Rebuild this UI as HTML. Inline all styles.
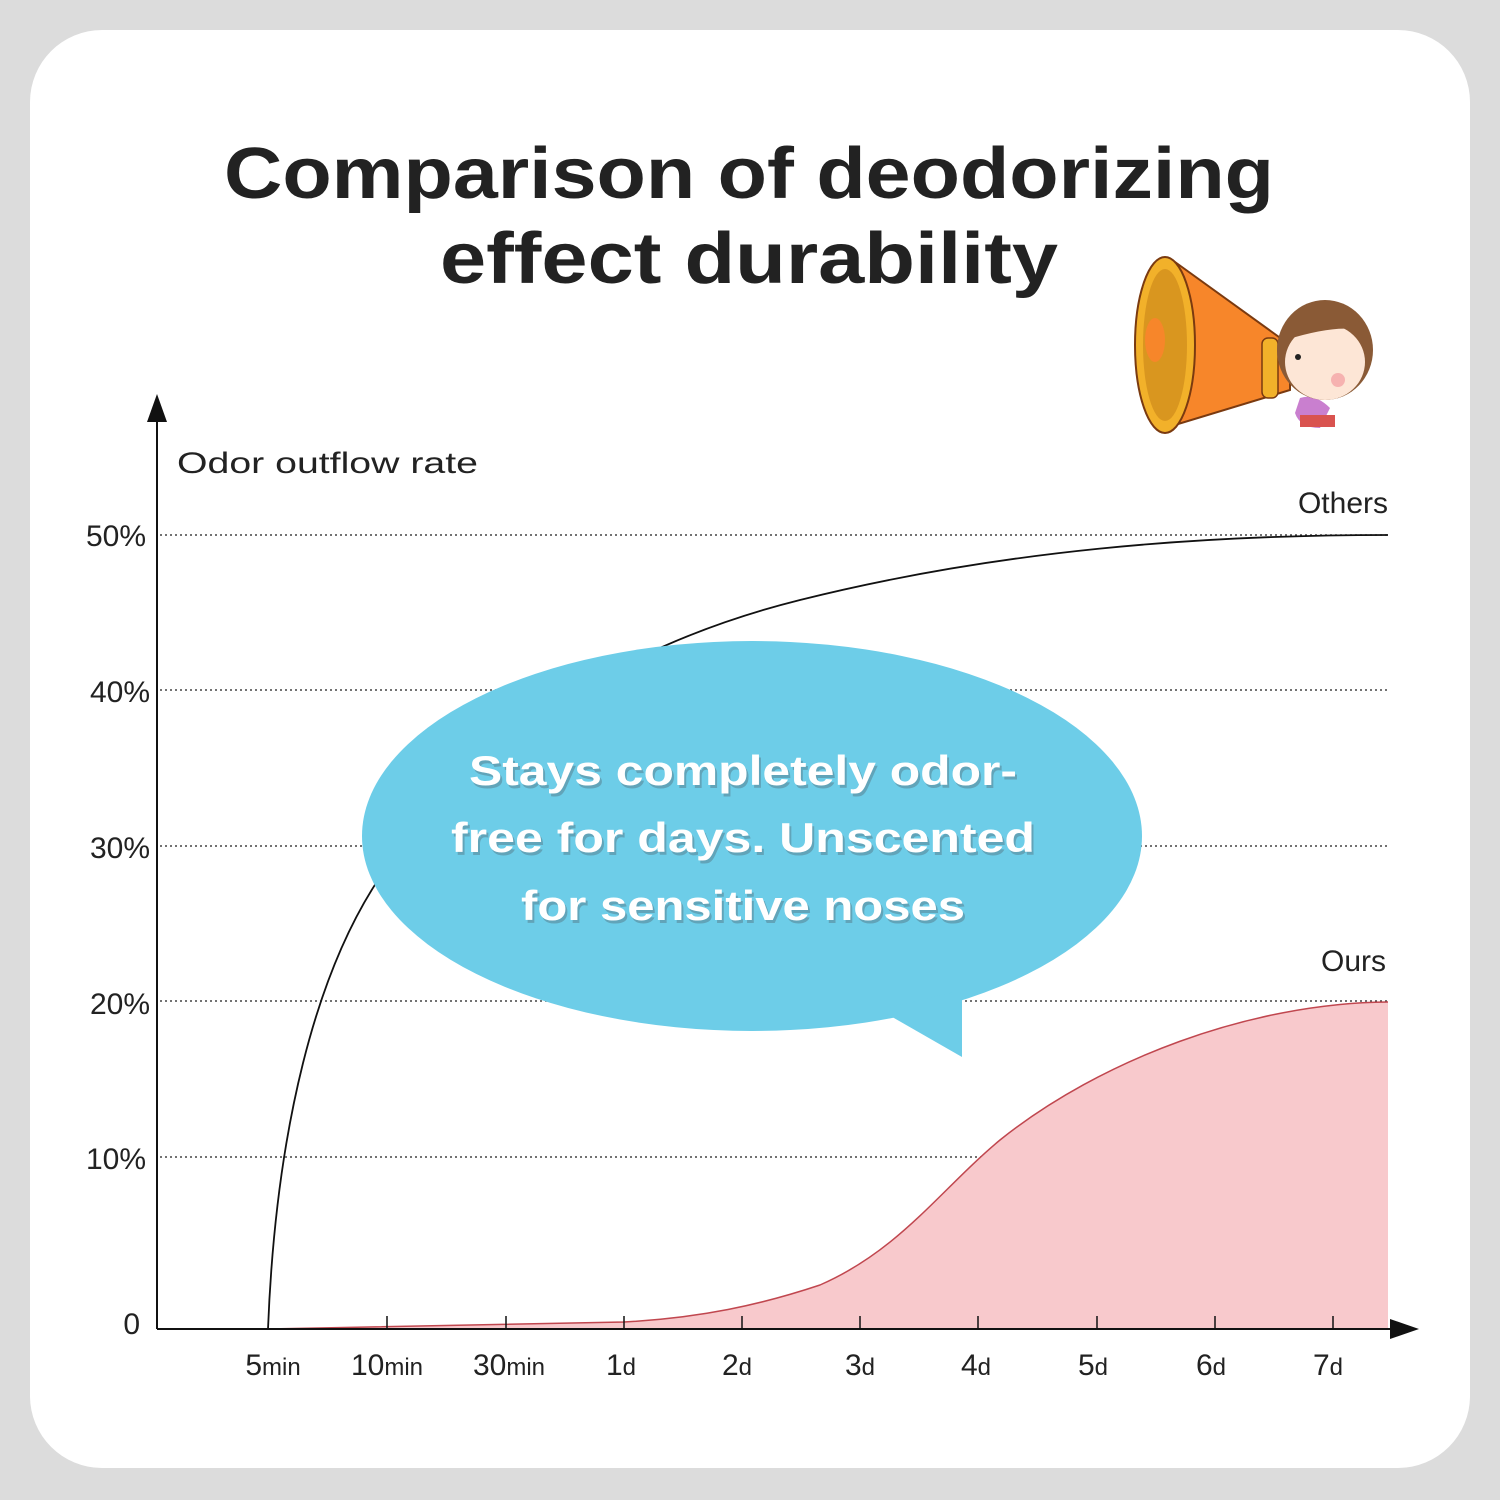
<!DOCTYPE html>
<html><head><style>
html,body{margin:0;padding:0;background:#dcdcdc;}
svg{display:block;font-family:"Liberation Sans",sans-serif;}
</style></head><body>
<svg width="1500" height="1500" viewBox="0 0 1500 1500" xmlns="http://www.w3.org/2000/svg">
<rect width="1500" height="1500" fill="#dcdcdc"/>
<rect x="30" y="30" width="1440" height="1438" rx="72" fill="#fff"/>
<text x="749" y="198" text-anchor="middle" font-size="72" font-weight="bold" fill="#222" textLength="1050" lengthAdjust="spacingAndGlyphs">Comparison of deodorizing</text>
<text x="749" y="283" text-anchor="middle" font-size="72" font-weight="bold" fill="#222" textLength="618" lengthAdjust="spacingAndGlyphs">effect durability</text>

<g>
<polygon points="1175,262 1290,345 1290,390 1165,428" fill="#f7862a" stroke="#7a3a10" stroke-width="2"/>
<ellipse cx="1165" cy="345" rx="30" ry="88" fill="#f2b12a" stroke="#7a3a10" stroke-width="2"/>
<ellipse cx="1165" cy="345" rx="22" ry="76" fill="#d9961f"/>
<ellipse cx="1155" cy="340" rx="10" ry="22" fill="#f7862a"/>
<rect x="1262" y="338" width="16" height="60" rx="6" fill="#f2b12a" stroke="#7a3a10" stroke-width="1.5"/>
<path d="M1300,398 q15,-5 30,10 l-10,20 q-20,0 -25,-15z" fill="#c97fcf"/>
<rect x="1300" y="415" width="35" height="12" fill="#d9534f"/>
<ellipse cx="1325" cy="350" rx="48" ry="50" fill="#8a5a36"/>
<ellipse cx="1325" cy="362" rx="40" ry="38" fill="#fde6d6"/>
<path d="M1285,340 q40,-40 85,-5 q-20,-15 -85,5z" fill="#8a5a36"/>
<circle cx="1338" cy="380" r="7" fill="#f6b2b0"/>
<circle cx="1298" cy="357" r="3" fill="#222"/>
</g>

<g stroke="#444" stroke-width="1.5" stroke-dasharray="2,3">
<line x1="160" y1="535" x2="1388" y2="535"/>
<line x1="160" y1="690" x2="1388" y2="690"/>
<line x1="160" y1="846" x2="1388" y2="846"/>
<line x1="160" y1="1001" x2="1388" y2="1001"/>
<line x1="160" y1="1157" x2="1388" y2="1157"/>
</g>

<path d="M268,1329 L624,1322 C700,1318 760,1305 820,1285 C900,1250 940,1190 1000,1140 C1100,1060 1250,1003 1388,1002 L1388,1329 Z" fill="#f8c9cc"/>
<path d="M268,1329 L624,1322 C700,1318 760,1305 820,1285 C900,1250 940,1190 1000,1140 C1100,1060 1250,1003 1388,1002" fill="none" stroke="#c0474f" stroke-width="1.5"/>

<path d="M268,1329 C275,1150 310,960 400,850 C500,720 640,640 800,600 C1000,550 1200,535 1388,535" fill="none" stroke="#111" stroke-width="1.8"/>

<line x1="157" y1="415" x2="157" y2="1329" stroke="#111" stroke-width="2"/>
<polygon points="157,394 147,422 167,422" fill="#111"/>
<line x1="157" y1="1329" x2="1395" y2="1329" stroke="#111" stroke-width="2"/>
<polygon points="1419,1329 1390,1319 1390,1339" fill="#111"/>
<g stroke="#111" stroke-width="1.5">
<line x1="387" y1="1316" x2="387" y2="1329"/><line x1="506" y1="1316" x2="506" y2="1329"/>
<line x1="624" y1="1316" x2="624" y2="1329"/><line x1="742" y1="1316" x2="742" y2="1329"/>
<line x1="860" y1="1316" x2="860" y2="1329"/><line x1="978" y1="1316" x2="978" y2="1329"/>
<line x1="1097" y1="1316" x2="1097" y2="1329"/><line x1="1215" y1="1316" x2="1215" y2="1329"/>
<line x1="1333" y1="1316" x2="1333" y2="1329"/>
</g>

<g font-size="30" fill="#222">
<text x="177" y="473" textLength="301" lengthAdjust="spacingAndGlyphs">Odor outflow rate</text>
<text x="1388" y="513" text-anchor="end">Others</text>
<text x="1386" y="971" text-anchor="end">Ours</text>
<text x="146" y="546" text-anchor="end">50%</text>
<text x="150" y="702" text-anchor="end">40%</text>
<text x="150" y="858" text-anchor="end">30%</text>
<text x="150" y="1014" text-anchor="end">20%</text>
<text x="146" y="1169" text-anchor="end">10%</text>
<text x="140" y="1334" text-anchor="end">0</text>
</g>
<g font-size="30" fill="#222" text-anchor="middle">
<text x="273" y="1375">5<tspan font-size="24">min</tspan></text>
<text x="387" y="1375">10<tspan font-size="24">min</tspan></text>
<text x="509" y="1375">30<tspan font-size="24">min</tspan></text>
<text x="621" y="1375">1<tspan font-size="24">d</tspan></text>
<text x="737" y="1375">2<tspan font-size="24">d</tspan></text>
<text x="860" y="1375">3<tspan font-size="24">d</tspan></text>
<text x="976" y="1375">4<tspan font-size="24">d</tspan></text>
<text x="1093" y="1375">5<tspan font-size="24">d</tspan></text>
<text x="1211" y="1375">6<tspan font-size="24">d</tspan></text>
<text x="1328" y="1375">7<tspan font-size="24">d</tspan></text>
</g>

<ellipse cx="752" cy="836" rx="390" ry="195" fill="#6dcde8"/>
<path d="M880,1010 L962,1057 L962,990 Z" fill="#6dcde8"/>
<g font-size="42" font-weight="bold" fill="#fff" text-anchor="middle">
<g fill="#5a8a9a" opacity="0.6" transform="translate(2,3)">
<text x="743" y="785" textLength="548" lengthAdjust="spacingAndGlyphs">Stays completely odor-</text>
<text x="743" y="852" textLength="584" lengthAdjust="spacingAndGlyphs">free for days. Unscented</text>
<text x="743" y="920" textLength="444" lengthAdjust="spacingAndGlyphs">for sensitive noses</text>
</g>
<text x="743" y="785" textLength="548" lengthAdjust="spacingAndGlyphs">Stays completely odor-</text>
<text x="743" y="852" textLength="584" lengthAdjust="spacingAndGlyphs">free for days. Unscented</text>
<text x="743" y="920" textLength="444" lengthAdjust="spacingAndGlyphs">for sensitive noses</text>
</g>
</svg>
</body></html>
